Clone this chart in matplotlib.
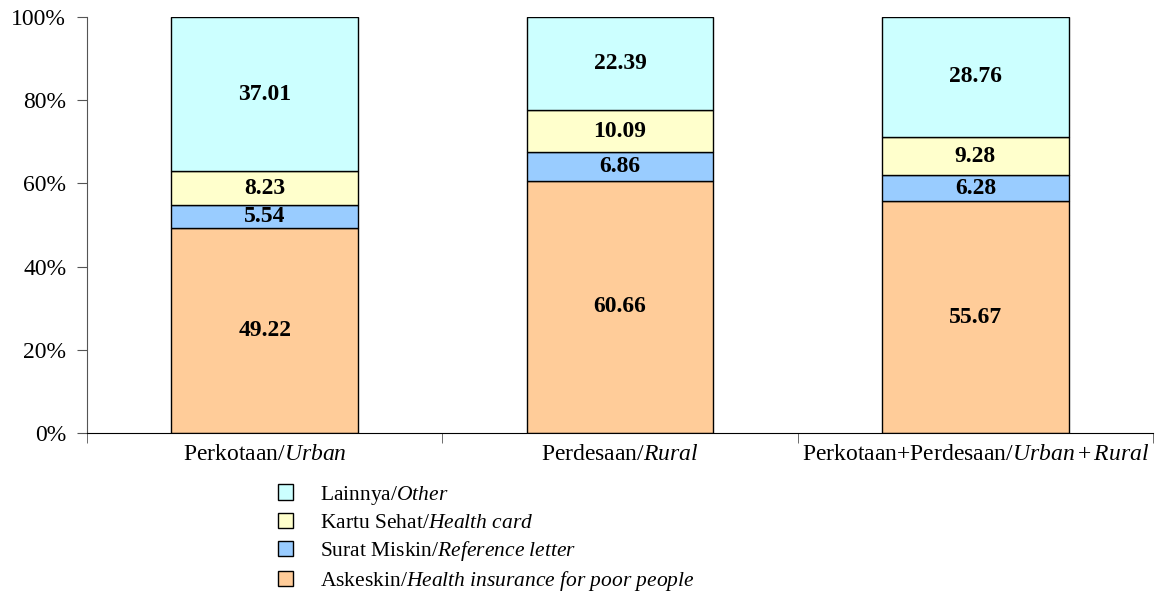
import matplotlib
matplotlib.use("Agg")
import matplotlib.pyplot as plt
from matplotlib.patches import Patch
import numpy as np

plt.rcParams['font.family'] = ['Liberation Serif', 'DejaVu Serif']
plt.rcParams['mathtext.fontset'] = 'custom'
plt.rcParams['mathtext.rm'] = 'Liberation Serif'
plt.rcParams['mathtext.it'] = 'Liberation Serif:italic'

categories = ["Perkotaan/$\\mathit{Urban}$", "Perdesaan/$\\mathit{Rural}$",
              "Perkotaan+Perdesaan/$\\mathit{Urban+Rural}$"]
askeskin = [49.22, 60.66, 55.67]
surat_miskin = [5.54, 6.86, 6.28]
kartu_sehat = [8.23, 10.09, 9.28]
lainnya = [37.01, 22.39, 28.76]

series = [
    ("Askeskin/$\\mathit{Health\\ insurance\\ for\\ poor\\ people}$", askeskin, "#FFCC99"),
    ("Surat Miskin/$\\mathit{Reference\\ letter}$", surat_miskin, "#99CCFF"),
    ("Kartu Sehat/$\\mathit{Health\\ card}$", kartu_sehat, "#FFFFCC"),
    ("Lainnya/$\\mathit{Other}$", lainnya, "#CCFFFF"),
]

fig = plt.figure(figsize=(11.6, 5.91), dpi=100)
ax = fig.add_axes([0.075, 0.2673, 0.919, 0.7039])

x = np.arange(len(categories))
bottom = np.zeros(len(categories))
handles = []
for label, vals, color in series:
    vals = np.array(vals)
    ax.bar(x, vals, bottom=bottom, width=0.526, color=color,
           edgecolor='black', linewidth=1.0)
    for xi, b, v in zip(x, bottom, vals):
        ax.text(xi, b + v / 2, f"{v:.2f}", ha='center', va='center',
                fontsize=17, fontweight='bold')
    bottom += vals
    handles.append(Patch(facecolor=color, edgecolor='black', label=label))

ax.set_xlim(-0.5, 2.5)
ax.set_ylim(0, 100)
ax.set_yticks(np.arange(0, 101, 20))
ax.set_yticklabels([f"{v}%" for v in range(0, 101, 20)], fontsize=17)
ax.set_xticks(x)
ax.set_xticklabels(categories, fontsize=17)
ax.tick_params(axis='x', which='major', length=0, pad=8)
ax.set_xticks([-0.5, 0.5, 1.5, 2.5], minor=True)
ax.tick_params(axis='x', which='minor', length=7, color='#555555')
ax.tick_params(axis='y', length=7, color='#555555', pad=8)
ax.spines['top'].set_visible(False)
ax.spines['right'].set_visible(False)
ax.spines['left'].set_color('#555555')
ax.spines['bottom'].set_color('black')

leg = fig.legend(handles[::-1], [h.get_label() for h in handles[::-1]],
                 loc='upper left', bbox_to_anchor=(0.230, 0.2),
                 frameon=False, fontsize=15.5, handlelength=0.7, handleheight=0.7,
                 handletextpad=1.25, labelspacing=0.28, borderpad=0)
fig.savefig("out.png", dpi=100)
